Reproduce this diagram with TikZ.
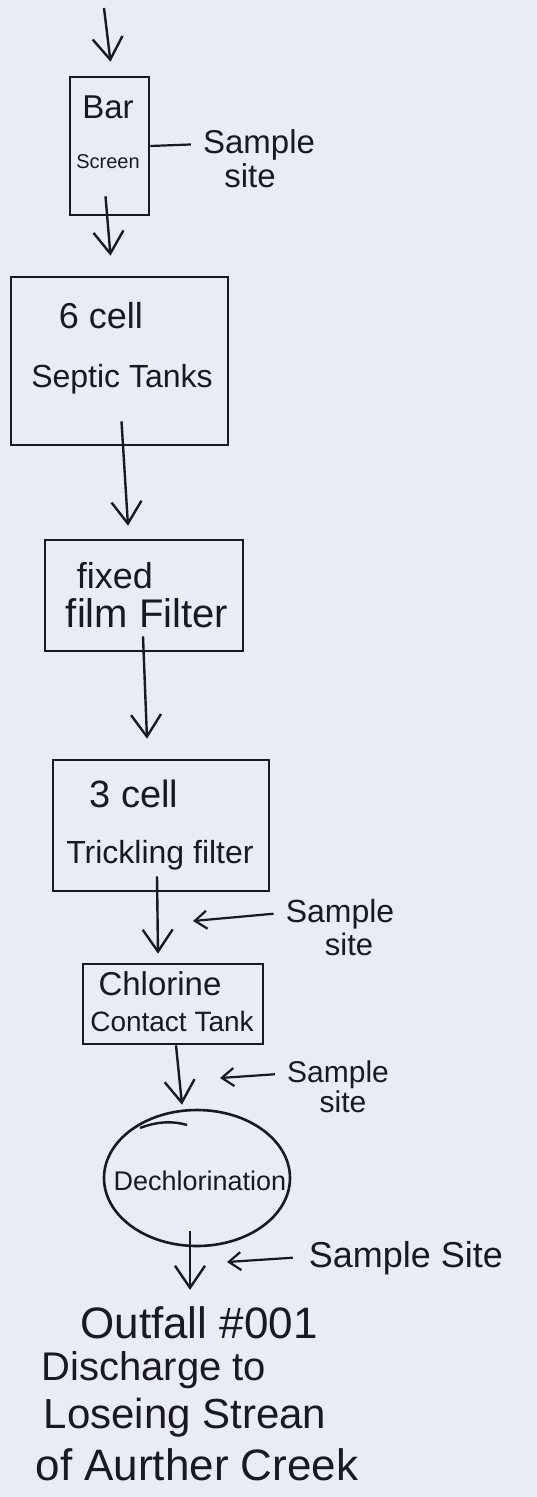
\documentclass[tikz,border=0pt]{standalone}
\usepackage{fontspec}
\setmainfont{Liberation Sans}
\usetikzlibrary{arrows.meta,shapes.geometric}
\definecolor{paper}{RGB}{233,236,245}
\definecolor{ink}{RGB}{25,25,32}
\newcommand{\fsz}[1]{\fontsize{#1}{#1}\selectfont}
\begin{document}
\begin{tikzpicture}[x=1pt,y=-1pt,
  box/.style={draw=ink, line width=2.6pt, rectangle, inner sep=0pt},
  txt/.style={inner sep=0pt, anchor=base, text=ink},
  flow/.style={draw=ink, line width=2.4pt, -{Straight Barb[length=22pt,width=30pt]}},
  tap/.style={draw=ink, line width=2.2pt, -{Straight Barb[length=12pt,width=18pt]}},
]
\fill[paper] (0,0) rectangle (537,1497);
\useasboundingbox (0,0) rectangle (537,1497);

% boxes
\node[box, minimum width=79pt, minimum height=138pt] (bar) at (109.5,146) {};
\node[box, minimum width=217pt, minimum height=168pt] (septic) at (119.5,361) {};
\node[box, minimum width=198pt, minimum height=111pt] (fixed) at (144,595.5) {};
\node[box, minimum width=216pt, minimum height=131pt] (trick) at (161,825.5) {};
\node[box, minimum width=180pt, minimum height=80pt] (chlor) at (173,1004) {};
\node[draw=ink, line width=2.6pt, ellipse, minimum width=186pt, minimum height=136pt, inner sep=0pt] (dechl) at (197,1178) {};
\draw[ink, line width=2.4pt] (140,1128) .. controls (158,1121) and (174,1121) .. (187,1125);

% texts in boxes
\node[txt, font=\fsz{33}] (tbar) at (108,118) {Bar};
\node[txt, font=\fsz{20}] (tscr) at (108,168) {Screen};
\node[txt, font=\fsz{36}] (tsix) at (101,328) {6 cell};
\node[txt, font=\fsz{32}] (tsep) at (122,387) {Septic Tanks};
\node[txt, font=\fsz{36}] (tfix) at (115,588) {fixed};
\node[txt, font=\fsz{40}] (tfilm) at (147,627) {film Filter};
\node[txt, font=\fsz{38}] (tthree) at (134,807) {3 cell};
\node[txt, font=\fsz{32}] (ttrick) at (160,863) {Trickling filter};
\node[txt, font=\fsz{33}] (tchl) at (160,995) {Chlorine};
\node[txt, font=\fsz{28}] (tcon) at (172,1031) {Contact Tank};
\node[txt, font=\fsz{27}] (tdech) at (200,1190) {Dechlorination};

% sample site labels
\node[txt, font=\fsz{33}] (s1a) at (259,153) {Sample};
\node[txt, font=\fsz{33}] (s1b) at (250,187) {site};
\node[txt, font=\fsz{32}] (s2a) at (340,922) {Sample};
\node[txt, font=\fsz{31}] (s2b) at (349,955) {site};
\node[txt, font=\fsz{30}] (s3a) at (338,1082) {Sample};
\node[txt, font=\fsz{30}] (s3b) at (343,1112) {site};
\node[txt, font=\fsz{36}] (s4) at (406,1267) {Sample Site};

% outfall text
\node[txt, font=\fsz{44}] (out1) at (199,1338) {Outfall \#001};
\node[txt, font=\fsz{40}] (out2) at (154,1380) {Discharge to};
\node[txt, font=\fsz{42}] (out3) at (185,1428) {Loseing Strean};
\node[txt, font=\fsz{44}] (out4) at (197,1480) {of Aurther Creek};

% flow connectors
\coordinate (src) at (104,8);
\draw[flow] (src) -- ([xshift=1pt,yshift=14pt]bar.north);
\draw[flow] ([xshift=-4pt,yshift=20pt]bar.south) -- ([xshift=-9pt,yshift=20pt]septic.north);
\draw[flow] ([xshift=2pt,yshift=25pt]septic.south) -- ([xshift=-16pt,yshift=13pt]fixed.north);
\draw[flow] ([xshift=-1pt,yshift=16pt]fixed.south) -- ([xshift=-14pt,yshift=20pt]trick.north);
\draw[flow] ([xshift=-4pt,yshift=16pt]trick.south) -- ([xshift=-15pt,yshift=9pt]chlor.north);
\draw[flow] ([xshift=3pt]chlor.south) -- ([xshift=-15pt,yshift=4pt]dechl.north);
\draw[flow] ([xshift=-7pt,yshift=16pt]dechl.south) -- ([xshift=-9pt,yshift=16pt]out1.north);

% sample site connectors
\coordinate (c2) at (193,921);
\coordinate (c3) at (220,1078);
\coordinate (c4) at (227,1262);
\draw[ink, line width=2.2pt] (bar.east) -- ([xshift=-12pt]s1a.west);
\draw[tap] ([xshift=-12pt]s2a.west) -- (c2);
\draw[tap] ([xshift=-12pt]s3a.west) -- (c3);
\draw[tap] ([xshift=-16pt]s4.west) -- (c4);
\end{tikzpicture}
\end{document}
